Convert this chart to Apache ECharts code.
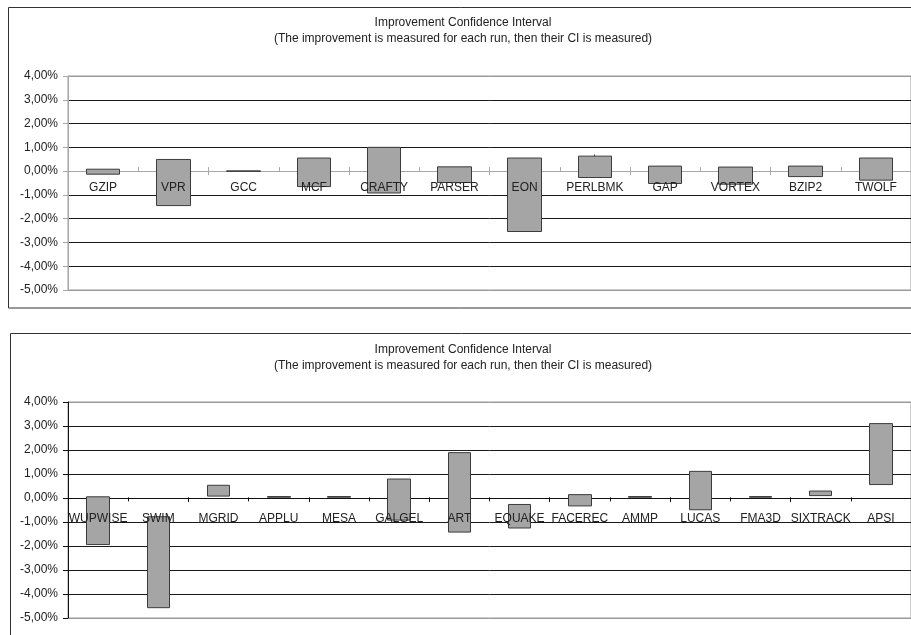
<!DOCTYPE html>
<html>
<head>
<meta charset="utf-8">
<title>Improvement Confidence Interval</title>
<script src="https://cdn.jsdelivr.net/npm/echarts@6/dist/echarts.min.js"></script>
<style>
  html, body { margin: 0; padding: 0; background: #ffffff; }
  #chart { width: 911px; height: 635px; }
</style>
</head>
<body>
<div id="chart"></div>
<script>
// Integer benchmarks: confidence interval of the improvement (percent)
var intNames = ['GZIP', 'VPR', 'GCC', 'MCF', 'CRAFTY', 'PARSER', 'EON', 'PERLBMK', 'GAP', 'VORTEX', 'BZIP2', 'TWOLF'];
var intLow   = [-0.13, -1.45, -0.01, -0.65, -0.92, -0.48, -2.54, -0.27, -0.52, -0.55, -0.23, -0.38];
var intHigh  = [ 0.08,  0.49,  0.01,  0.55,  1.00,  0.18,  0.55,  0.63,  0.21,  0.17,  0.21,  0.55];
var intPeak  = [ 0.08,  0.49,  0.01,  0.55,  1.00,  0.18,  0.55,  0.70,  0.21,  0.17,  0.21,  0.55];

// Floating-point benchmarks: confidence interval of the improvement (percent)
var fpNames = ['WUPWISE', 'SWIM', 'MGRID', 'APPLU', 'MESA', 'GALGEL', 'ART', 'EQUAKE', 'FACEREC', 'AMMP', 'LUCAS', 'FMA3D', 'SIXTRACK', 'APSI'];
var fpLow   = [-1.94, -4.57, 0.08, 0.03, 0.03, -0.92, -1.42, -1.25, -0.33, 0.03, -0.49, 0.03, 0.10, 0.56];
var fpHigh  = [ 0.05, -0.78, 0.53, 0.06, 0.06,  0.79,  1.89, -0.27,  0.14, 0.06,  1.11, 0.06, 0.29, 3.10];

// Value axis range and step (percent)
var yMin = -5, yMax = 4, yStep = 1;

var titleLines = 'Improvement Confidence Interval\n(The improvement is measured for each run, then their CI is measured)';
var FONT = '"Liberation Sans", Arial, sans-serif';

function pct(v) {
  return v.toFixed(2).replace('.', ',') + '%';
}

// candlestick item: [open, close, lowest, highest] -> box spans low..high
function boxes(lows, highs, peaks) {
  var out = [];
  for (var i = 0; i < lows.length; i++) {
    out.push([lows[i], highs[i], lows[i], peaks ? peaks[i] : highs[i]]);
  }
  return out;
}

function gridLineColors(edge, inner) {
  var c = [];
  for (var v = yMin; v <= yMax; v += yStep) {
    c.push(v === yMin || v === yMax ? edge : inner);
  }
  return c;
}

function valueAxis(gridIndex, lineColor, splitColors) {
  return {
    type: 'value', gridIndex: gridIndex,
    min: yMin, max: yMax, interval: yStep,
    axisLine: { show: true, lineStyle: { color: lineColor, width: 1 } },
    axisTick: { show: true, length: 5, lineStyle: { color: lineColor } },
    axisLabel: { formatter: pct, margin: 10, color: '#222', fontSize: 12, fontFamily: FONT },
    splitLine: { show: true, lineStyle: { color: splitColors, width: 1 } }
  };
}

// lower category axis: zero line and downward ticks, drawn beneath the boxes
function baseAxis(gridIndex, names, yIndex, color) {
  return {
    type: 'category', gridIndex: gridIndex, data: names, position: 'bottom',
    boundaryGap: true, z: 0,
    axisLine: { show: true, onZero: true, onZeroAxisIndex: yIndex, lineStyle: { color: color, width: 1 } },
    axisTick: { show: true, length: 4, lineStyle: { color: color } },
    axisLabel: { show: false },
    splitLine: { show: false }
  };
}

// upper category axis: upward ticks and the names, drawn over the boxes;
// it is shifted up to the zero line once the value scale is known
function labelAxis(gridIndex, names, color) {
  return {
    type: 'category', gridIndex: gridIndex, data: names, position: 'bottom',
    boundaryGap: true, z: 10, offset: 0,
    axisLine: { show: true, onZero: false, lineStyle: { color: 'rgba(0,0,0,0)' } },
    axisTick: { show: true, inside: true, length: 4, lineStyle: { color: color } },
    axisLabel: { show: true, interval: 0, margin: 11, color: '#222', fontSize: 12, fontFamily: FONT },
    splitLine: { show: false }
  };
}

var boxStyle = {
  color: '#a5a5a5', color0: '#a5a5a5',
  borderColor: '#3c3c3c', borderColor0: '#3c3c3c', borderWidth: 1
};

var chart = echarts.init(document.getElementById('chart'), null, { renderer: 'canvas' });

chart.setOption({
  animation: false,
  backgroundColor: '#ffffff',
  graphic: [
    { type: 'rect', shape: { x: 8.5, y: 7.5, width: 1000, height: 300.5 },
      style: { fill: 'none', stroke: '#333', lineWidth: 1 }, silent: true, z: -1 },
    { type: 'rect', shape: { x: 10.5, y: 333.5, width: 1000, height: 400 },
      style: { fill: 'none', stroke: '#333', lineWidth: 1 }, silent: true, z: -1 },
    { type: 'text', x: 463, y: 15, silent: true,
      style: { text: titleLines, align: 'center', verticalAlign: 'top', fill: '#222',
               font: '12px ' + FONT, lineHeight: 16 } },
    { type: 'text', x: 463, y: 341.5, silent: true,
      style: { text: titleLines, align: 'center', verticalAlign: 'top', fill: '#222',
               font: '12px ' + FONT, lineHeight: 16 } }
  ],
  grid: [
    { left: 68, top: 76, width: 843, height: 214, show: true,
      borderColor: '#9a9a9a', borderWidth: 1, backgroundColor: 'transparent' },
    { left: 68, top: 402, width: 843, height: 216, show: true,
      borderColor: '#9a9a9a', borderWidth: 1, backgroundColor: 'transparent' }
  ],
  xAxis: [
    baseAxis(0, intNames, 0, '#a8a8a8'),
    labelAxis(0, intNames, '#a8a8a8'),
    baseAxis(1, fpNames, 1, '#111'),
    labelAxis(1, fpNames, '#111')
  ],
  yAxis: [
    valueAxis(0, '#a8a8a8', gridLineColors('#9a9a9a', '#1a1a1a')),
    valueAxis(1, '#111', gridLineColors('#9a9a9a', '#1a1a1a'))
  ],
  series: [
    { type: 'candlestick', name: 'int', xAxisIndex: 0, yAxisIndex: 0,
      barWidth: 34, data: boxes(intLow, intHigh, intPeak), itemStyle: boxStyle,
      emphasis: { disabled: true } },
    { type: 'candlestick', name: 'fp', xAxisIndex: 2, yAxisIndex: 1,
      barWidth: 23, data: boxes(fpLow, fpHigh), itemStyle: boxStyle,
      emphasis: { disabled: true } }
  ]
});

// lift each name axis from the grid bottom to the zero line of its value axis
function zeroOffset(yIndex) {
  var zeroY = chart.convertToPixel({ yAxisIndex: yIndex }, 0);
  var baseY = chart.convertToPixel({ yAxisIndex: yIndex }, yMin);
  return zeroY - baseY;
}
chart.setOption({
  xAxis: [{}, { offset: zeroOffset(0) }, {}, { offset: zeroOffset(1) }]
});
</script>
</body>
</html>
